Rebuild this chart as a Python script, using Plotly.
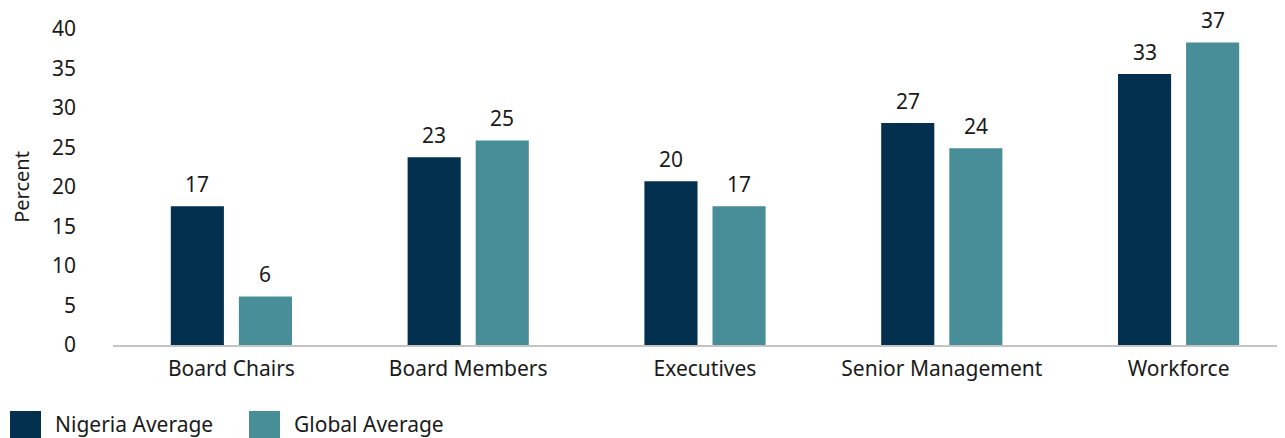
import plotly.graph_objects as go

categories = ["Board Chairs", "Board Members", "Executives", "Senior Management", "Workforce"]
nigeria_values = [17.55, 23.76, 20.72, 28.1, 34.3]
global_values = [6.15, 25.9, 17.55, 24.9, 38.3]
nigeria_labels = ["17", "23", "20", "27", "33"]
global_labels = ["6", "25", "17", "24", "37"]
series_names = ["Nigeria Average", "Global Average"]
y_ticks = [0, 5, 10, 15, 20, 25, 30, 35, 40]

NAVY = "#03304F"
TEAL = "#488E99"
TXT = "#1a1a1a"
FONT = "Noto Sans"
FS = 21

fig = go.Figure()
fig.add_trace(go.Bar(x=categories, y=nigeria_values, name=series_names[0],
                     marker=dict(color=NAVY, line=dict(width=0)), showlegend=False))
fig.add_trace(go.Bar(x=categories, y=global_values, name=series_names[1],
                     marker=dict(color=TEAL, line=dict(width=0)), showlegend=False))

bargap = 0.425
slot = (1 - bargap) / 2
for i in range(len(categories)):
    for j, (vals, labs) in enumerate([(nigeria_values, nigeria_labels), (global_values, global_labels)]):
        fig.add_annotation(x=i + (j - 0.5) * slot, y=vals[i], xref="x", yref="y",
                           text=labs[i], showarrow=False, yanchor="bottom", yshift=7,
                           borderpad=0,
                           font=dict(size=FS, color=TXT, family=FONT))

# page has an 8px body margin; compensate so the plot lands where the reference has it
OFF = 8
L, T = 113 - OFF, 29 - OFF
PW, PH = 1184, 316
W = L + PW
H = 438 - OFF
B = H - T - PH
AX0 = 345  # screen y of the x-axis line


def px_x(sx):
    return (sx - 113) / PW


def px_y(sy):
    return (AX0 - sy) / PH


legend_items = [(series_names[0], NAVY, 10), (series_names[1], TEAL, 249)]
for name, col, x0 in legend_items:
    fig.add_shape(type="rect", xref="paper", yref="paper",
                  x0=px_x(x0), x1=px_x(x0 + 31),
                  y0=px_y(411), y1=px_y(445),
                  fillcolor=col, line=dict(width=0), layer="above")
    fig.add_annotation(xref="paper", yref="paper",
                       x=px_x(x0 + 43), y=px_y(424),
                       text=name, showarrow=False, xanchor="left", yanchor="middle",
                       font=dict(size=FS, color=TXT, family=FONT))

fig.update_layout(
    width=W, height=H,
    margin=dict(l=L, r=0, t=T, b=B),
    plot_bgcolor="white", paper_bgcolor="white",
    barmode="group", bargap=bargap, bargroupgap=0.22,
    font=dict(family=FONT, size=FS, color=TXT),
    showlegend=False,
    xaxis=dict(showline=True, linecolor="#c4c4c4", linewidth=1.5, ticks="",
               tickfont=dict(size=FS, color=TXT), showgrid=False, automargin=False,
               ticklabelstandoff=4),
    yaxis=dict(range=[0, 40], tickvals=y_ticks, showgrid=False, zeroline=False,
               showline=False, ticks="", ticklabelstandoff=36, automargin=False,
               tickfont=dict(size=FS, color=TXT),
               title=dict(text="Percent", font=dict(size=FS - 1, color=TXT), standoff=30)),
)

fig.write_html("out.html")
